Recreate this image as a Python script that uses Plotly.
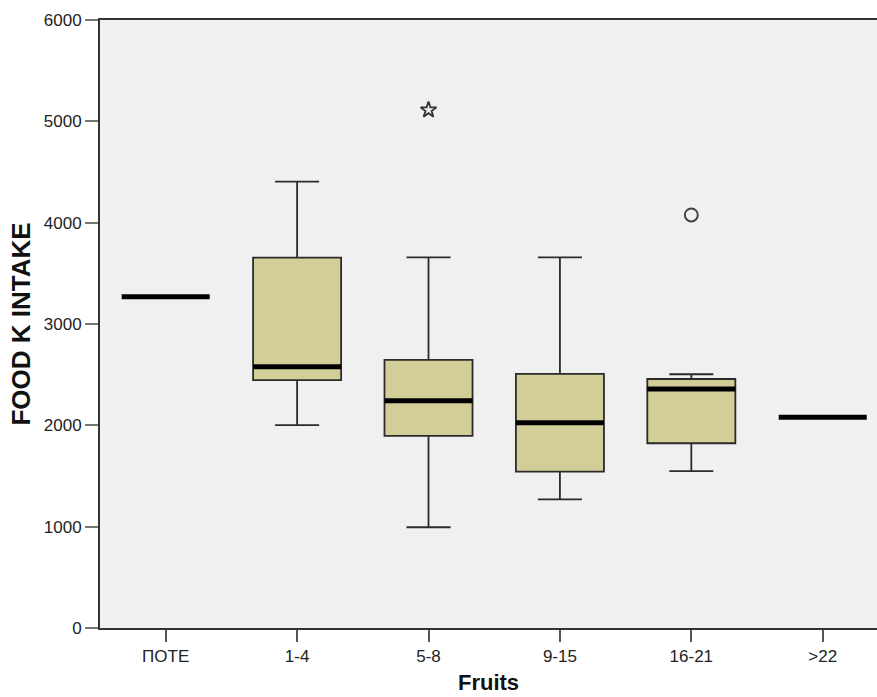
import plotly.graph_objects as go

categories = ["ПОТЕ", "1-4", "5-8", "9-15", "16-21", ">22"]
lower_whisker = [3270, 2003, 994, 1270, 1549, 2079]
q1_vals = [3270, 2447, 1895, 1543, 1823, 2079]
median_vals = [3270, 2579, 2243, 2026, 2359, 2079]
q3_vals = [3270, 3655, 2645, 2507, 2457, 2079]
upper_whisker = [3270, 4405, 3658, 3658, 2504, 2079]

extreme_cat = [2]
extreme_vals = [5112]
outlier_cat = [4]
outlier_vals = [4076]

y_ticks = [0, 1000, 2000, 3000, 4000, 5000, 6000]

FILL = "#d3ce97"
LINE = "#2b2b2b"
BOXW = 0.67

fig = go.Figure()
for i, c in enumerate(categories):
    if q1_vals[i] == q3_vals[i]:
        continue
    fig.add_trace(go.Box(
        x=[i], q1=[q1_vals[i]], median=[median_vals[i]], q3=[q3_vals[i]],
        lowerfence=[lower_whisker[i]], upperfence=[upper_whisker[i]],
        boxpoints=False, width=BOXW, whiskerwidth=0.5,
        fillcolor=FILL, line=dict(color=LINE, width=1.8),
        showlegend=False, hoverinfo="skip",
    ))

for i, m in enumerate(median_vals):
    fig.add_shape(type="line", xref="x", yref="y",
                  x0=i - BOXW / 2, x1=i + BOXW / 2, y0=m, y1=m,
                  line=dict(color="black", width=5))

fig.add_trace(go.Scatter(
    x=extreme_cat, y=extreme_vals, mode="markers",
    marker=dict(symbol="star-open", size=12, color="#333333", line=dict(width=1.8, color="#333333")),
    showlegend=False, hoverinfo="skip"))
fig.add_trace(go.Scatter(
    x=outlier_cat, y=outlier_vals, mode="markers",
    marker=dict(symbol="circle-open", size=13, color="#444444", line=dict(width=2, color="#444444")),
    showlegend=False, hoverinfo="skip"))

font_family = "Liberation Sans, Arial, sans-serif"
fig.update_layout(
    width=877, height=697,
    margin=dict(l=100, r=0, t=20, b=69),
    paper_bgcolor="white", plot_bgcolor="#f0f0f0",
    font=dict(family=font_family, color="#222222", size=17),
    xaxis=dict(
        range=[-0.5, 5.413], tickmode="array", tickvals=list(range(len(categories))),
        ticktext=categories, showgrid=False, zeroline=False,
        showline=True, linecolor="#333333", linewidth=2, mirror=True,
        ticks="outside", ticklen=12, tickwidth=2, tickcolor="#555555",
        tickfont=dict(size=17, color="#222222"),
        title=dict(text="<b>Fruits</b>", font=dict(size=22, color="#111111"), standoff=9),
    ),
    yaxis=dict(
        range=[0, 6000], tickmode="array", tickvals=y_ticks,
        showgrid=False, zeroline=False,
        showline=True, linecolor="#333333", linewidth=2,
        ticks="outside", ticklen=13, tickwidth=2, tickcolor="#777777",
        tickfont=dict(size=17, color="#222222"),
        title=dict(text="<b>FOOD K INTAKE</b>", font=dict(size=26, color="#111111"), standoff=6),
    ),
)

fig.write_html("out.html")
